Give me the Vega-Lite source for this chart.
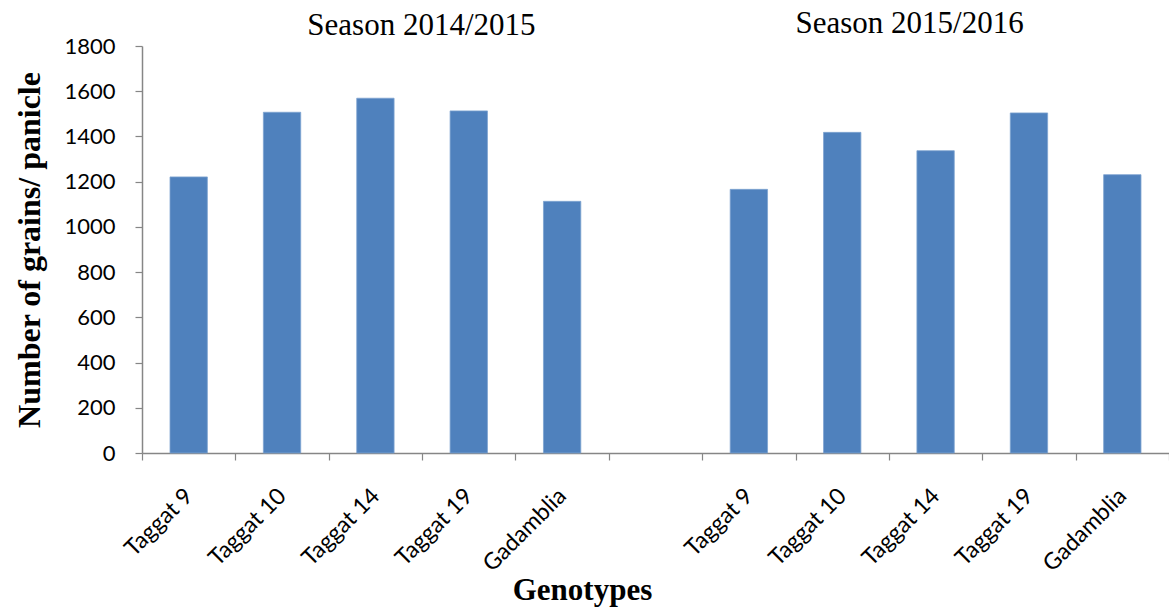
{
  "$schema": "https://vega.github.io/schema/vega-lite/v6.json",
  "width": 1027,
  "height": 407,
  "autosize": {"type": "none"},
  "padding": {"left": 142, "top": 46, "right": 0, "bottom": 157},
  "background": "white",
  "config": {"view": {"stroke": null}},
  "data": {
    "values": [
      {"slot": "2014/2015|Taggat 9", "season": "2014/2015", "genotype": "Taggat 9", "grains": 1221},
      {"slot": "2014/2015|Taggat 10", "season": "2014/2015", "genotype": "Taggat 10", "grains": 1507},
      {"slot": "2014/2015|Taggat 14", "season": "2014/2015", "genotype": "Taggat 14", "grains": 1569},
      {"slot": "2014/2015|Taggat 19", "season": "2014/2015", "genotype": "Taggat 19", "grains": 1513},
      {"slot": "2014/2015|Gadamblia", "season": "2014/2015", "genotype": "Gadamblia", "grains": 1113},
      {"slot": "2015/2016|Taggat 9", "season": "2015/2016", "genotype": "Taggat 9", "grains": 1166},
      {"slot": "2015/2016|Taggat 10", "season": "2015/2016", "genotype": "Taggat 10", "grains": 1418},
      {"slot": "2015/2016|Taggat 14", "season": "2015/2016", "genotype": "Taggat 14", "grains": 1337},
      {"slot": "2015/2016|Taggat 19", "season": "2015/2016", "genotype": "Taggat 19", "grains": 1504},
      {"slot": "2015/2016|Gadamblia", "season": "2015/2016", "genotype": "Gadamblia", "grains": 1231}
    ]
  },
  "encoding": {
    "x": {
      "field": "slot",
      "type": "nominal",
      "sort": null,
      "scale": {
        "domain": ["2014/2015|Taggat 9", "2014/2015|Taggat 10", "2014/2015|Taggat 14", "2014/2015|Taggat 19", "2014/2015|Gadamblia", "gap", "2015/2016|Taggat 9", "2015/2016|Taggat 10", "2015/2016|Taggat 14", "2015/2016|Taggat 19", "2015/2016|Gadamblia"],
        "paddingInner": 0,
        "paddingOuter": 0
      },
      "axis": {
        "title": "Genotypes",
        "titleFont": "Liberation Serif",
        "titleFontSize": 31,
        "titleFontWeight": "bold",
        "titleColor": "black",
        "titleX": 440,
        "titleY": 146,
        "titleBaseline": "alphabetic",
        "titleAlign": "center",
        "labelExpr": "datum.value == 'gap' ? '' : split(datum.value, '|')[1]",
        "labelAngle": -45,
        "labelAlign": "right",
        "labelBaseline": "middle",
        "labelFont": "Lato",
        "labelFontSize": 23,
        "labelColor": "black",
        "labelPadding": 32,
        "labelOverlap": false,
        "labelBound": false,
        "tickBand": "extent",
        "tickSize": 7,
        "tickColor": "#868686",
        "domainColor": "#868686",
        "domainWidth": 1.5,
        "tickWidth": 1.2,
        "grid": false
      }
    }
  },
  "layer": [
    {
      "mark": {"type": "bar", "width": {"band": 0.4}, "color": "#4F81BD", "stroke": "#7EA3D1", "strokeWidth": 0.8},
      "encoding": {
        "y": {
          "field": "grains",
          "type": "quantitative",
          "scale": {"domain": [0, 1800], "nice": false},
          "axis": {
            "title": "Number of grains/ panicle",
            "titleFont": "Liberation Serif",
            "titleFontSize": 32,
            "titleFontWeight": "bold",
            "titleColor": "black",
            "titlePadding": 17,
            "format": "d",
            "values": [0, 200, 400, 600, 800, 1000, 1200, 1400, 1600, 1800],
            "labelFont": "Lato",
            "labelFontSize": 22,
            "labelColor": "black",
            "labelPadding": 20,
            "tickSize": 7,
            "tickColor": "#868686",
            "domainColor": "#868686",
            "domainWidth": 1.5,
            "tickWidth": 1.2,
            "grid": false
          }
        }
      }
    },
    {
      "data": {"values": [{"heading": "Season 2014/2015"}]},
      "mark": {"type": "text", "font": "Liberation Serif", "fontSize": 31, "fontWeight": "normal", "color": "black", "baseline": "alphabetic", "align": "center", "dx": 46},
      "encoding": {
        "x": {"datum": "2014/2015|Taggat 14", "type": "nominal"},
        "y": {"datum": 1850, "type": "quantitative"},
        "text": {"field": "heading", "type": "nominal"}
      }
    },
    {
      "data": {"values": [{"heading": "Season 2015/2016"}]},
      "mark": {"type": "text", "font": "Liberation Serif", "fontSize": 31, "fontWeight": "normal", "color": "black", "baseline": "alphabetic", "align": "center", "dx": -26},
      "encoding": {
        "x": {"datum": "2015/2016|Taggat 14", "type": "nominal"},
        "y": {"datum": 1858, "type": "quantitative"},
        "text": {"field": "heading", "type": "nominal"}
      }
    }
  ]
}
